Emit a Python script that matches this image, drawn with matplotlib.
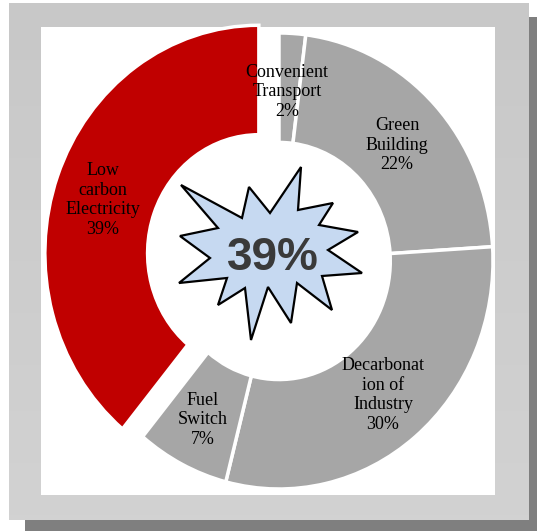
import matplotlib.pyplot as plt
from matplotlib.patches import Rectangle, Polygon
import numpy as np

# data
names = ["Convenient\nTransport", "Green\nBuilding", "Decarbonat\nion of\nIndustry",
         "Fuel\nSwitch", "Low\ncarbon\nElectricity"]
values = [2, 22, 30, 7, 39]
colors = ["#a6a6a6", "#a6a6a6", "#a6a6a6", "#a6a6a6", "#c00000"]
explode = [0, 0, 0, 0, 0.1]

# label centres in pixels (from top-left)
label_pos = [(287, 92), (397, 145), (383, 395), (203, 420), (103, 200)]

W, H = 537, 531
fig = plt.figure(figsize=(W / 100, H / 100), dpi=100)
fig.patch.set_facecolor("white")

# background: shadow, grey frame, white panel
bg = fig.add_axes([0, 0, 1, 1], zorder=0)
bg.set_xlim(0, W)
bg.set_ylim(H, 0)
bg.axis("off")
bg.add_patch(Rectangle((25, 17), W - 25, H - 17, color="#7f7f7f", lw=0))
grad = np.linspace(0, 1, 100).reshape(-1, 1)
bg.imshow(grad, extent=(9, 529, 520, 3), cmap=plt.matplotlib.colors.LinearSegmentedColormap.from_list(
    "g", ["#c8c8c8", "#d2d2d2"]), aspect="auto", zorder=1)
bg.add_patch(Rectangle((41, 27), 454, 468, color="white", lw=0, zorder=2))
bg.set_xlim(0, W)
bg.set_ylim(H, 0)

# donut (slightly stretched vertically, like the original)
cx, cy, rx, ry = 279, H - 261, 214, 228
ax = fig.add_axes([(cx - 1.25 * rx) / W, (cy - 1.15 * ry) / H, 2.5 * rx / W, 2.3 * ry / H], zorder=1)
ax.pie(values, colors=colors, explode=explode, startangle=90, counterclock=False,
       radius=1, wedgeprops=dict(width=0.48, edgecolor="white", linewidth=2.5))
ax.set_aspect("auto")
ax.set_xlim(-1.25, 1.25)
ax.set_ylim(-1.15, 1.15)
ax.axis("off")

# overlay: starburst and labels
ov = fig.add_axes([0, 0, 1, 1], zorder=2)
ov.set_xlim(0, W)
ov.set_ylim(H, 0)
ov.axis("off")
ov.patch.set_alpha(0)

star = [(181, 185), (242, 218), (249, 187), (270, 213), (301, 167), (298, 210),
        (333, 203), (319, 225), (358, 232), (328, 250), (362, 273), (322, 276),
        (332, 310), (297, 283), (291, 323), (268, 287), (251, 340), (245, 288),
        (218, 305), (227, 278), (179, 283), (210, 258), (180, 236), (218, 228)]
ov.add_patch(Polygon(star, closed=True, facecolor="#c6d9f1", edgecolor="black", lw=1.6))
ov.text(273, 258, f"{values[4]}%", ha="center", va="center", fontsize=33,
        fontweight="bold", family="Liberation Sans", color="#3a3a3a")

for name, v, (x, y) in zip(names, values, label_pos):
    ov.text(x, y, f"{name}\n{v}%", ha="center", va="center", fontsize=13,
            family="Liberation Serif", color="black", linespacing=1.2)

fig.savefig("out.png", dpi=100, facecolor="white")
